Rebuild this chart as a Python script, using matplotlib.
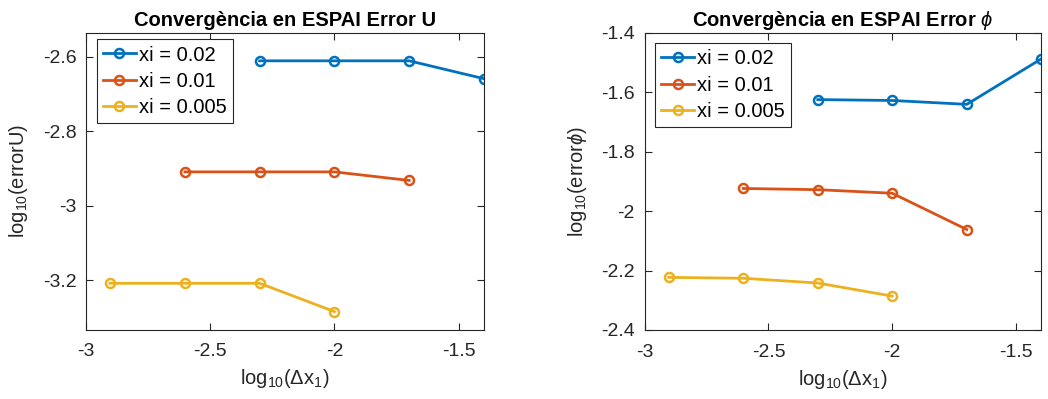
import numpy as np
import matplotlib.pyplot as plt

plt.rcParams['font.family'] = ['Liberation Sans', 'DejaVu Sans']
plt.rcParams['mathtext.fontset'] = 'custom'
plt.rcParams['mathtext.rm'] = 'Liberation Sans'
plt.rcParams['mathtext.it'] = 'Liberation Sans:italic'
plt.rcParams['axes.unicode_minus'] = False

# log10(dx) for dx = 0.04, 0.02, 0.01, 0.005, 0.0025, 0.00125
x_02 = [-2.301, -2.0, -1.699, -1.398]
x_01 = [-2.602, -2.301, -2.0, -1.699]
x_005 = [-2.903, -2.602, -2.301, -2.0]

errU_02 = [-2.611, -2.611, -2.611, -2.659]
errU_01 = [-2.909, -2.909, -2.909, -2.932]
errU_005 = [-3.208, -3.208, -3.208, -3.284]

errPhi_02 = [-1.625, -1.628, -1.641, -1.488]
errPhi_01 = [-1.924, -1.928, -1.940, -2.062]
errPhi_005 = [-2.223, -2.226, -2.242, -2.286]

labels = ['xi = 0.02', 'xi = 0.01', 'xi = 0.005']
colors = ['#0072BD', '#D95319', '#EDB120']

W, H = 1048, 399
fig = plt.figure(figsize=(W / 100, H / 100), dpi=100)
ax1 = fig.add_axes([86 / W, 1 - 329.5 / H, 398 / W, 297 / H])
ax2 = fig.add_axes([644.7 / W, 1 - 330 / H, 396.6 / W, 297.3 / H])

fs = 14

def draw(ax, ys, title, ylabel, ylim, yticks, leg_anchor):
    xs = [x_02, x_01, x_005]
    for x, y, c, lab in zip(xs, ys, colors, labels):
        ax.plot(x, y, '-o', color=c, lw=2, ms=6.5, mfc='none', mew=1.8, label=lab)
    ax.set_xlim(-3, -1.398)
    ax.set_ylim(*ylim)
    ax.set_xticks([-3, -2.5, -2, -1.5])
    ax.set_xticklabels(['-3', '-2.5', '-2', '-1.5'])
    ax.set_yticks(yticks)
    ax.set_yticklabels([('%g' % t) for t in yticks])
    ax.tick_params(direction='in', top=True, right=True, labelsize=fs,
                   colors='#262626', length=5, width=0.8, pad=7)
    ax.tick_params(axis='x', pad=10)
    for s in ax.spines.values():
        s.set_color('#262626')
        s.set_linewidth(0.8)
    ax.set_title(title, fontsize=14.5, fontweight='bold', pad=5)
    ax.set_xlabel(r'log$_{10}$($\Delta$x$_1$)', fontsize=fs + 0.5, color='#262626', labelpad=5)
    ax.set_ylabel(ylabel, fontsize=fs + 0.5, color='#262626', labelpad=9)
    leg = ax.legend(loc='upper left', bbox_to_anchor=leg_anchor, fontsize=14.5,
                    fancybox=False, framealpha=1, edgecolor='#262626',
                    handlelength=1.65, handletextpad=0.15, borderaxespad=0,
                    borderpad=0.3, labelspacing=0.37)
    leg.get_frame().set_linewidth(0.8)

draw(ax1, [errU_02, errU_01, errU_005], 'Convergència en ESPAI Error U',
     r'log$_{10}$(errorU)', (-3.332, -2.535), [-3.2, -3.0, -2.8, -2.6],
     (10.7 / 398, 1 - 7 / 297))
draw(ax2, [errPhi_02, errPhi_01, errPhi_005], r'Convergència en ESPAI Error $\phi$',
     r'log$_{10}$(error$\phi$)', (-2.4, -1.4), [-2.4, -2.2, -2.0, -1.8, -1.6, -1.4],
     (10.3 / 396.6, 1 - 10.6 / 297.3))

fig.savefig('out.png', dpi=100)
